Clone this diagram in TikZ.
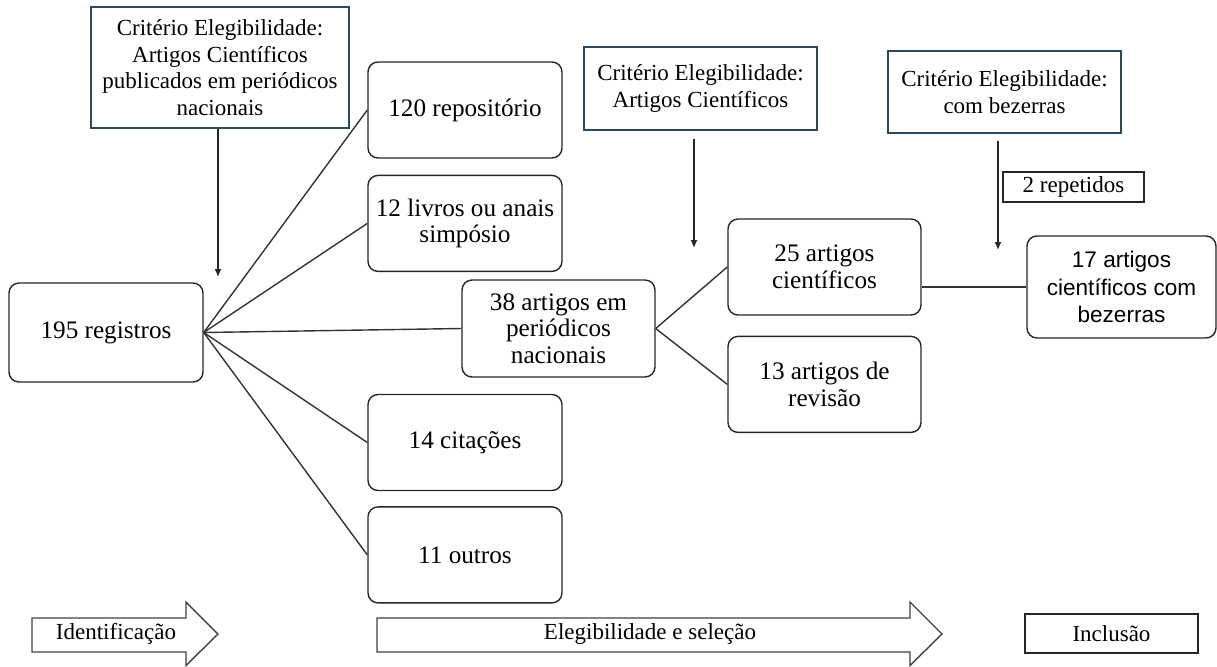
\documentclass[tikz,border=0pt]{standalone}
\usepackage{fontspec}
\setmainfont{Liberation Serif}
\setsansfont{Liberation Sans}
\usepackage{tikz}
\usetikzlibrary{positioning,arrows.meta}
\definecolor{ardosia}{HTML}{2F4A5A}
\tikzset{
  txt/.style={font=\fontsize{11.5}{13.25}\selectfont},
  crit/.style={rectangle, draw=ardosia, line width=0.7pt, align=center, inner sep=2pt, txt},
  etapa/.style={rectangle, draw=black!85, line width=0.7pt, rounded corners=5pt, align=center, minimum width=97pt, minimum height=48pt, inner sep=2pt, font=\fontsize{12.6}{13.25}\selectfont},
  nota/.style={rectangle, draw=black!85, line width=0.6pt, align=center, inner sep=1pt, txt},
  ligacao/.style={draw=black!80, line width=0.7pt},
  seta/.style={draw=black!85, line width=0.7pt, -{Latex[length=4pt,width=3.5pt]}},
  faixa/.style={draw=black!75, line width=0.7pt, fill=white},
}

\begin{document}
\begin{tikzpicture}[x=0.5pt,y=-0.5pt]
    \useasboundingbox (0,0) rectangle (1217,666);

    % criterios
    \node[crit, minimum width=129pt, minimum height=60.5pt] (crit1) at (220,67.5) {Critério Elegibilidade:\\Artigos Científicos\\publicados em periódicos\\nacionais};
    \node[crit, minimum width=116.5pt, minimum height=41.5pt] (crit2) at (700.5,88.5) {Critério Elegibilidade:\\Artigos Científicos};
    \node[crit, minimum width=116.5pt, minimum height=41pt] (crit3) at (1004.5,92) {Critério Elegibilidade:\\com bezerras};

    % identificacao
    \node[etapa, minimum height=49.5pt] (reg) at (106,332.5) {195 registros};
    \node[etapa] (repo) at (465,110) {120 repositório};
    \node[etapa, below=8pt of repo] (livros) {12 livros ou anais\\simpósio};
    \node[etapa] (cit) at (465,442.5) {14 citações};
    \node[etapa, below=7.5pt of cit] (outros) {11 outros};

    % elegibilidade
    \node[etapa, minimum width=96.5pt, minimum height=48.5pt] (per) at (558.5,328.5) {38 artigos em\\periódicos\\nacionais};
    \node[etapa, minimum width=96.5pt] (cient) at (824.5,267) {25 artigos\\científicos};
    \node[etapa, minimum width=96.5pt, below=10pt of cient] (rev) {13 artigos de\\revisão};

    % inclusao
    \node[nota, minimum width=70.5pt, minimum height=15pt] (repet) at (1073.5,187) {2 repetidos};
    \node[etapa, minimum width=94.5pt, minimum height=51pt, font=\sffamily\fontsize{11.3}{13.75}\selectfont] (bez) at (1121.5,287) {17 artigos\\científicos com\\bezerras};

    \coordinate (fim1) at (218,277);
    \coordinate (fim2) at (694,248);
    \coordinate (fim3) at (998,250);

    % faixas
    \draw[faixa] (32,618) -- (186,618) -- (186,602) -- (218,634) -- (186,665.5) -- (186,652) -- (32,652) -- cycle;
    \draw[faixa] (377,618) -- (910,618) -- (910,602) -- (942,634) -- (910,665.5) -- (910,652) -- (377,652) -- cycle;
    \node[txt] (ident) at (116,634) {Identificação};
    \node[txt] (eleg) at (650,634) {Elegibilidade e seleção};
    \node[nota, minimum width=86.5pt, minimum height=19.5pt] (incl) at (1111.5,633.5) {Inclusão};

    \begin{scope}[every path/.style=ligacao]
      \path (reg.east) -- (repo.west);
      \path (reg.east) -- (livros.west);
      \path (reg.east) -- (per.west);
      \path (reg.east) -- (cit.west);
      \path (reg.east) -- (outros.west);
      \path (per.east) -- (cient.west);
      \path (per.east) -- (rev.west);
      \path (bez.west) -- (bez.west -| cient.east);
    \end{scope}

    \draw[seta] (crit1.south -| fim1) -- (fim1);
    \draw[seta, shorten <=4pt] (crit2.south -| fim2) -- (fim2);
    \draw[seta, shorten <=3.5pt] (crit3.south -| fim3) -- (fim3);
\end{tikzpicture}
\end{document}
